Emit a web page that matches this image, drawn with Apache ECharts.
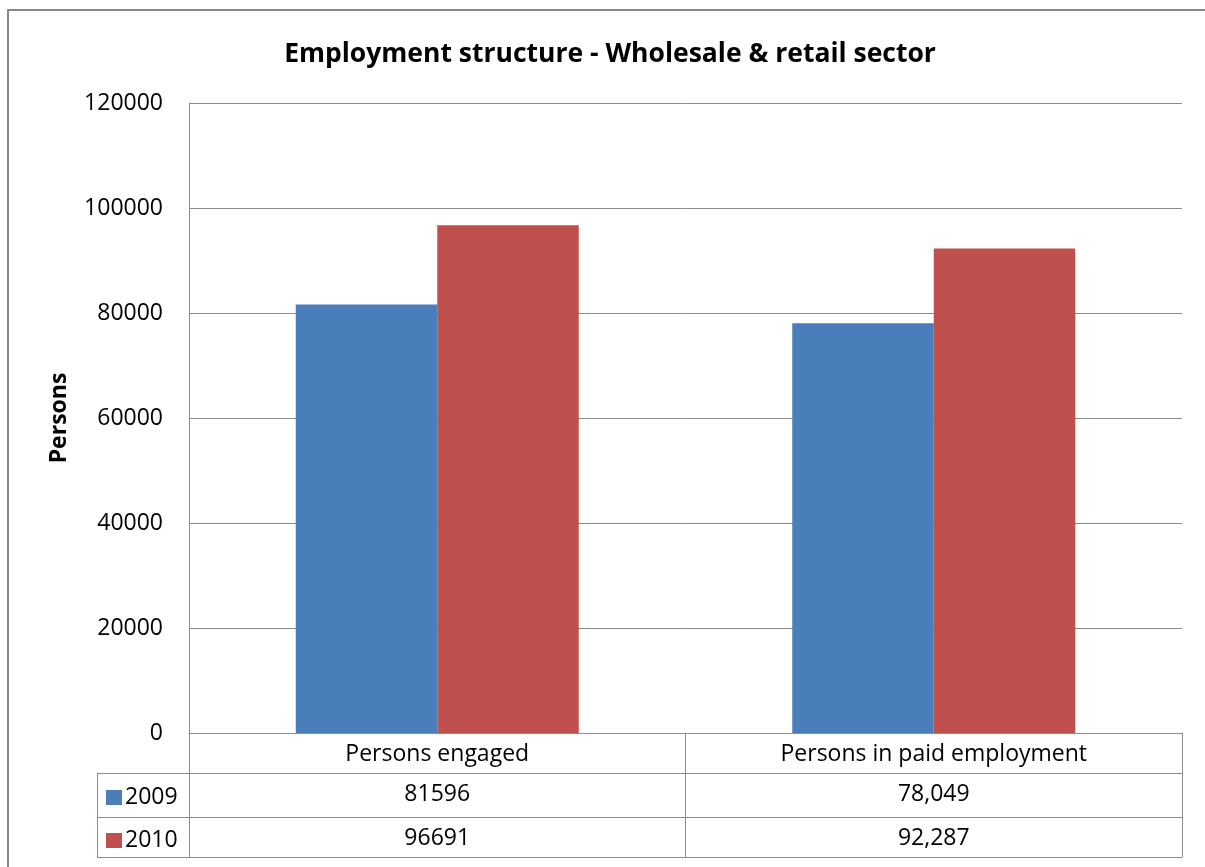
<!DOCTYPE html>
<html>
<head>
<meta charset="utf-8">
<title>Employment structure - Wholesale &amp; retail sector</title>
<script src="https://cdn.jsdelivr.net/npm/echarts@6/dist/echarts.min.js"></script>
<style>
  html, body { margin: 0; padding: 0; background: #ffffff; }
  #chart { width: 1205px; height: 867px; }
</style>
</head>
<body>
<div id="chart"></div>
<script>
// Categories and the data-table cells as they are printed
const categories = ['Persons engaged', 'Persons in paid employment'];
const seriesNames = ['2009', '2010'];
const labels2009 = ['81596', '78,049'];
const labels2010 = ['96691', '92,287'];
// Bar heights come from the same printed numbers
const values2009 = labels2009.map(s => Number(s.replace(/,/g, '')));
const values2010 = labels2010.map(s => Number(s.replace(/,/g, '')));
const yTicks = [0, 20000, 40000, 60000, 80000, 100000, 120000];

const FONT = '"Open Sans", "Noto Sans", sans-serif';
const LINE = '#8c8c8c';
const BLUE = '#4a7ebb';
const RED = '#c0504d';
const SIZE = 23;

const chart = echarts.init(document.getElementById('chart'), null, { renderer: 'canvas' });

// One category axis per table row: the axis line draws the row's top rule,
// the boundary ticks draw the cell dividers, the labels fill the cells.
function tableAxis(offset, tickLen, cellLabels) {
  return {
    type: 'category',
    gridIndex: 0,
    position: 'bottom',
    offset: offset,
    data: categories,
    axisLine: { show: true, lineStyle: { color: LINE, width: 1 } },
    axisTick: { show: tickLen > 0, length: tickLen, interval: 0, lineStyle: { color: LINE, width: 1 } },
    axisLabel: {
      show: !!cellLabels,
      interval: 0,
      margin: 10,
      fontFamily: FONT,
      fontSize: SIZE,
      color: '#000',
      formatter: (v, i) => cellLabels ? cellLabels[i] : v
    },
    splitLine: { show: false }
  };
}

const option = {
  backgroundColor: '#ffffff',
  animation: false,
  textStyle: { fontFamily: FONT },
  title: {
    text: 'Employment structure - Wholesale & retail sector',
    left: 610,
    textAlign: 'center',
    top: 41,
    padding: 0,
    textStyle: { fontFamily: FONT, fontSize: 26.5, fontWeight: 'bold', color: '#000' }
  },
  legend: {
    orient: 'vertical',
    left: 106,
    top: 786,
    padding: 0,
    itemWidth: 16,
    itemHeight: 15,
    itemGap: 20,
    icon: 'rect',
    selectedMode: false,
    data: seriesNames,
    textStyle: { fontFamily: FONT, fontSize: SIZE, color: '#000', lineHeight: 20, padding: [0, 0, 0, -2] }
  },
  grid: { left: 189, right: 23, top: 103, bottom: 134, containLabel: false },
  xAxis: [
    tableAxis(0, 40, categories),
    tableAxis(40, 44, labels2009),
    tableAxis(84, 40, labels2010),
    tableAxis(124, 0, null)
  ],
  yAxis: {
    type: 'value',
    min: yTicks[0],
    max: yTicks[yTicks.length - 1],
    interval: yTicks[1] - yTicks[0],
    name: 'Persons',
    nameLocation: 'middle',
    nameRotate: 90,
    nameGap: 118,
    nameTextStyle: { fontFamily: FONT, fontSize: SIZE, fontWeight: 'bold', color: '#000' },
    axisLine: { show: true, lineStyle: { color: LINE, width: 1 } },
    axisTick: { show: false },
    axisLabel: { margin: 26, fontFamily: FONT, fontSize: SIZE, color: '#000', formatter: v => String(v) },
    splitLine: { show: true, lineStyle: { color: LINE, width: 1 } }
  },
  series: [
    {
      name: seriesNames[0],
      type: 'bar',
      xAxisIndex: 0,
      data: values2009,
      barGap: '0%',
      barCategoryGap: '43%',
      itemStyle: { color: BLUE }
    },
    {
      name: seriesNames[1],
      type: 'bar',
      xAxisIndex: 0,
      data: values2010,
      barGap: '0%',
      barCategoryGap: '43%',
      itemStyle: { color: RED }
    }
  ],
  graphic: [
    // chart frame
    {
      type: 'rect', silent: true, z: 100,
      shape: { x: 8, y: 10, width: 1400, height: 1000 },
      style: { fill: null, stroke: '#878787', lineWidth: 2 }
    },
    // legend-key column of the data table
    { type: 'line', silent: true, shape: { x1: 97, y1: 773.5, x2: 189, y2: 773.5 }, style: { stroke: LINE, lineWidth: 1 } },
    { type: 'line', silent: true, shape: { x1: 97, y1: 817.5, x2: 189, y2: 817.5 }, style: { stroke: LINE, lineWidth: 1 } },
    { type: 'line', silent: true, shape: { x1: 97, y1: 857.5, x2: 189, y2: 857.5 }, style: { stroke: LINE, lineWidth: 1 } },
    { type: 'line', silent: true, shape: { x1: 97.5, y1: 773, x2: 97.5, y2: 858 }, style: { stroke: LINE, lineWidth: 1 } }
  ]
};

chart.setOption(option);
</script>
</body>
</html>
